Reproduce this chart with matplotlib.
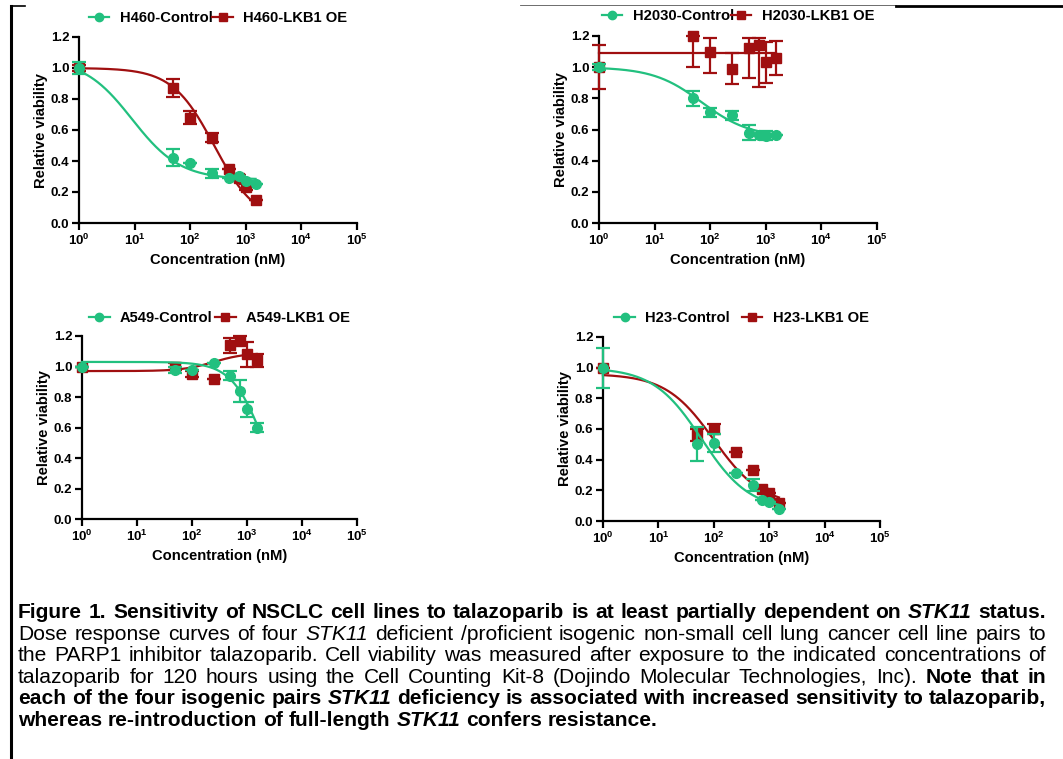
import numpy as np
import matplotlib
matplotlib.use("Agg")
import matplotlib.pyplot as plt
from matplotlib.lines import Line2D

plt.rcParams['font.family'] = ['Liberation Sans', 'DejaVu Sans']
plt.rcParams['font.weight'] = 'bold'
plt.rcParams['mathtext.fontset'] = 'custom'
plt.rcParams['mathtext.rm'] = 'Liberation Sans:bold'
plt.rcParams['mathtext.bf'] = 'Liberation Sans:bold'
plt.rcParams['mathtext.it'] = 'Liberation Sans:bold:italic'

GREEN = '#22c07f'
RED = '#a00f10'

conc = [1, 50, 100, 250, 500, 750, 1000, 1500]

# ---- H460 ----
h460_ctrl = [1.00, 0.42, 0.385, 0.32, 0.29, 0.305, 0.27, 0.25]
h460_ctrl_lo = [0.04, 0.055, 0.0, 0.03, 0.0, 0.0, 0.0, 0.0]
h460_ctrl_hi = [0.04, 0.055, 0.0, 0.03, 0.0, 0.0, 0.0, 0.0]
h460_lkb1 = [1.00, 0.87, 0.68, 0.55, 0.35, 0.29, 0.23, 0.15]
h460_lkb1_lo = [0.02, 0.06, 0.04, 0.03, 0.0, 0.02, 0.02, 0.0]
h460_lkb1_hi = [0.02, 0.06, 0.04, 0.03, 0.0, 0.02, 0.02, 0.0]
# ---- H2030 ----
h2030_ctrl = [1.00, 0.80, 0.71, 0.69, 0.58, 0.565, 0.56, 0.565]
h2030_ctrl_lo = [0.02, 0.05, 0.03, 0.03, 0.05, 0.0, 0.03, 0.0]
h2030_ctrl_hi = [0.02, 0.05, 0.03, 0.03, 0.05, 0.0, 0.03, 0.0]
h2030_lkb1 = [1.00, 1.20, 1.10, 0.99, 1.12, 1.14, 1.03, 1.06]
h2030_lkb1_lo = [0.14, 0.20, 0.14, 0.10, 0.19, 0.27, 0.13, 0.11]
h2030_lkb1_hi = [0.14, 0.0, 0.09, 0.10, 0.07, 0.05, 0.13, 0.11]
# ---- A549 ----
a549_ctrl = [1.00, 0.98, 0.98, 1.02, 0.94, 0.84, 0.72, 0.60]
a549_ctrl_lo = [0.0, 0.02, 0.0, 0.0, 0.03, 0.07, 0.05, 0.03]
a549_ctrl_hi = [0.0, 0.02, 0.0, 0.0, 0.03, 0.07, 0.05, 0.03]
a549_lkb1 = [1.00, 1.00, 0.95, 0.92, 1.14, 1.17, 1.08, 1.04]
a549_lkb1_lo = [0.0, 0.02, 0.02, 0.0, 0.05, 0.03, 0.08, 0.04]
a549_lkb1_hi = [0.0, 0.02, 0.02, 0.0, 0.05, 0.03, 0.08, 0.04]
# ---- H23 ----
h23_ctrl = [1.00, 0.50, 0.51, 0.31, 0.235, 0.14, 0.125, 0.08]
h23_ctrl_lo = [0.13, 0.11, 0.06, 0.0, 0.04, 0.0, 0.0, 0.0]
h23_ctrl_hi = [0.13, 0.11, 0.06, 0.0, 0.04, 0.0, 0.0, 0.0]
h23_lkb1 = [1.00, 0.56, 0.60, 0.45, 0.33, 0.21, 0.18, 0.115]
h23_lkb1_lo = [0.0, 0.04, 0.03, 0.0, 0.0, 0.0, 0.0, 0.0]
h23_lkb1_hi = [0.0, 0.04, 0.03, 0.0, 0.0, 0.0, 0.0, 0.0]

# fitted 4-parameter logistic curves: (bottom, top, EC50, hill)
fit_params = {
    'H460-Control': (0.28, 1.06, 9.0, 1.0),
    'H460-LKB1 OE': (0.0, 1.0, 270.0, 1.15),
    'H2030-Control': (0.55, 1.0, 70.0, 1.0),
    'H2030-LKB1 OE': (1.09, 1.09, 100.0, 1.0),
    'A549-Control': (0.0, 1.03, 2000.0, 1.5),
    'A549-LKB1 OE': (1.09, 0.97, 250.0, 1.5),
    'H23-Control': (0.07, 1.0, 60.0, 1.0),
    'H23-LKB1 OE': (0.10, 0.96, 100.0, 1.0),
}

panels = [
    ('H460', h460_ctrl, (h460_ctrl_lo, h460_ctrl_hi), h460_lkb1, (h460_lkb1_lo, h460_lkb1_hi)),
    ('H2030', h2030_ctrl, (h2030_ctrl_lo, h2030_ctrl_hi), h2030_lkb1, (h2030_lkb1_lo, h2030_lkb1_hi)),
    ('A549', a549_ctrl, (a549_ctrl_lo, a549_ctrl_hi), a549_lkb1, (a549_lkb1_lo, a549_lkb1_hi)),
    ('H23', h23_ctrl, (h23_ctrl_lo, h23_ctrl_hi), h23_lkb1, (h23_lkb1_lo, h23_lkb1_hi)),
]

W, H = 1063, 759
fig = plt.figure(figsize=(W / 100, H / 100), dpi=100)

# axes boxes in pixels: left, right, top, bottom
boxes = [(79, 357, 37, 223), (599, 877, 36, 223), (82, 357, 336, 519), (603, 880, 337, 521)]
leg_y = [18, 16, 318, 318]
col_space = [0.0, -0.2, 0.15, 0.8]

def logistic(x, b, t, ec, h):
    return b + (t - b) / (1 + (x / ec) ** h)

xfit = np.logspace(0, np.log10(1500), 300)

for (name, c, ce, l, le), (x0, x1, y0, y1), ly, cs in zip(panels, boxes, leg_y, col_space):
    ax = fig.add_axes([x0 / W, 1 - y1 / H, (x1 - x0) / W, (y1 - y0) / H])
    ax.set_xscale('log')
    ax.set_xlim(1, 1e5)
    ax.set_ylim(0, 1.2)
    for s in ['top', 'right']:
        ax.spines[s].set_visible(False)
    for s in ['left', 'bottom']:
        ax.spines[s].set_linewidth(1.6)
    ax.set_yticks(np.arange(0, 1.21, 0.2))
    ax.set_yticklabels(['%.1f' % v for v in np.arange(0, 1.21, 0.2)])
    ax.set_xticks([1, 10, 100, 1000, 1e4, 1e5])
    ax.set_xticklabels([r'$10^{%d}$' % k for k in range(6)])
    ax.xaxis.set_minor_locator(matplotlib.ticker.NullLocator())
    ax.tick_params(axis='both', which='major', length=5, width=1.6, labelsize=9.5, pad=2)
    for lab in ax.get_yticklabels() + ax.get_xticklabels():
        lab.set_fontweight('bold')
    ax.set_ylabel('Relative viability', fontsize=10.6, fontweight='bold', labelpad=2)
    ax.set_xlabel('Concentration (nM)', fontsize=10.6, fontweight='bold', labelpad=4)

    lab_c = name + '-Control'
    lab_l = name + '-LKB1 OE'
    # LKB1 (red) first, then control on top
    ax.plot(xfit, logistic(xfit, *fit_params[lab_l]), color=RED, lw=1.6, zorder=2)
    ax.errorbar(conc, l, yerr=[le[0], le[1]], fmt='s', color=RED, ms=7, elinewidth=1.6, capsize=5,
                capthick=1.6, zorder=3)
    ax.plot(xfit, logistic(xfit, *fit_params[lab_c]), color=GREEN, lw=1.6, zorder=4)
    ax.errorbar(conc, c, yerr=[ce[0], ce[1]], fmt='o', color=GREEN, ms=7, elinewidth=1.6, capsize=5,
                capthick=1.6, zorder=5)
    for art in ax.get_children():
        try:
            art.set_clip_on(False)
        except Exception:
            pass

    handles = [Line2D([], [], color=GREEN, marker='o', ms=6, lw=1.6),
               Line2D([], [], color=RED, marker='s', ms=6, lw=1.6)]
    yc = 1 + (y0 - ly) / (y1 - y0)
    ax.legend(handles, [lab_c, lab_l], loc='center', bbox_to_anchor=(0.5, yc), ncol=2,
              frameon=False, handlelength=1.4, handletextpad=0.7,
              columnspacing=cs, borderpad=0, borderaxespad=0,
              prop={'weight': 'bold', 'size': 10.6})

# frame lines
fig.add_artist(Line2D([11 / W, 11 / W], [1 - 6 / H, 0], transform=fig.transFigure, color='black', lw=2.2))
fig.add_artist(Line2D([11 / W, 25 / W], [1 - 6 / H, 1 - 6 / H], transform=fig.transFigure, color='black', lw=1.2))
fig.add_artist(Line2D([520 / W, 896 / W], [1 - 5 / H, 1 - 5 / H], transform=fig.transFigure, color='#555555', lw=0.6))
fig.add_artist(Line2D([896 / W, 1.0], [1 - 6 / H, 1 - 6 / H], transform=fig.transFigure, color='black', lw=2.0))

# caption
caption_lines = [
    [("Figure 1. Sensitivity of NSCLC cell lines to talazoparib is at least partially dependent on", 'bold', 'normal'),
     ("STK11", 'bold', 'italic'), ("status.", 'bold', 'normal')],
    [("Dose response curves of four", 'normal', 'normal'), ("STK11", 'normal', 'italic'),
     ("deficient /proficient isogenic non-small cell lung cancer cell line pairs to", 'normal', 'normal')],
    [("the PARP1 inhibitor talazoparib. Cell viability was measured after exposure to the indicated concentrations of", 'normal', 'normal')],
    [("talazoparib for 120 hours using the Cell Counting Kit-8 (Dojindo Molecular Technologies, Inc).", 'normal', 'normal'),
     ("Note that in", 'bold', 'normal')],
    [("each of the four isogenic pairs", 'bold', 'normal'), ("STK11", 'bold', 'italic'),
     ("deficiency is associated with increased sensitivity to talazoparib,", 'bold', 'normal')],
    [("whereas re-introduction of full-length", 'bold', 'normal'), ("STK11", 'bold', 'italic'),
     ("confers resistance.", 'bold', 'normal')],
]
cap_left, cap_right = 18, 1046
baselines = [618, 639.6, 661.2, 682.8, 704.4, 726]

renderer = fig.canvas.get_renderer()

def measure(txt, weight, style, size):
    t = fig.text(0, 0, txt, fontsize=size, fontweight=weight, fontstyle=style)
    w = t.get_window_extent(renderer).width
    t.remove()
    return w

def tokenize(segs):
    toks = []
    for txt, wt, st in segs:
        for w in txt.split():
            toks.append((w, wt, st))
    return toks

def natural_width(segs, size):
    toks = tokenize(segs)
    sp = measure('a a', 'normal', 'normal', size) - 2 * measure('a', 'normal', 'normal', size)
    return sum(measure(w, wt, st, size) for w, wt, st in toks) + sp * (len(toks) - 1)

# caption size: the widest justified line just fits the column
ref_size = 12.0
cap_size = min(ref_size * (cap_right - cap_left) / natural_width(s, ref_size)
               for s in caption_lines[:-1]) * 0.995

for i, (segs, yb) in enumerate(zip(caption_lines, baselines)):
    tokens = tokenize(segs)
    widths = [measure(w, wt, st, cap_size) for w, wt, st in tokens]
    justify = i < len(caption_lines) - 1
    if justify:
        gap = (cap_right - cap_left - sum(widths)) / (len(tokens) - 1)
    else:
        gap = measure('a a', 'bold', 'normal', cap_size) - 2 * measure('a', 'bold', 'normal', cap_size)
    x = cap_left
    for (w, wt, st), wd in zip(tokens, widths):
        fig.text(x / W, 1 - yb / H, w, fontsize=cap_size, fontweight=wt, fontstyle=st,
                 ha='left', va='baseline')
        x += wd + gap

fig.savefig('out.png', dpi=100)
